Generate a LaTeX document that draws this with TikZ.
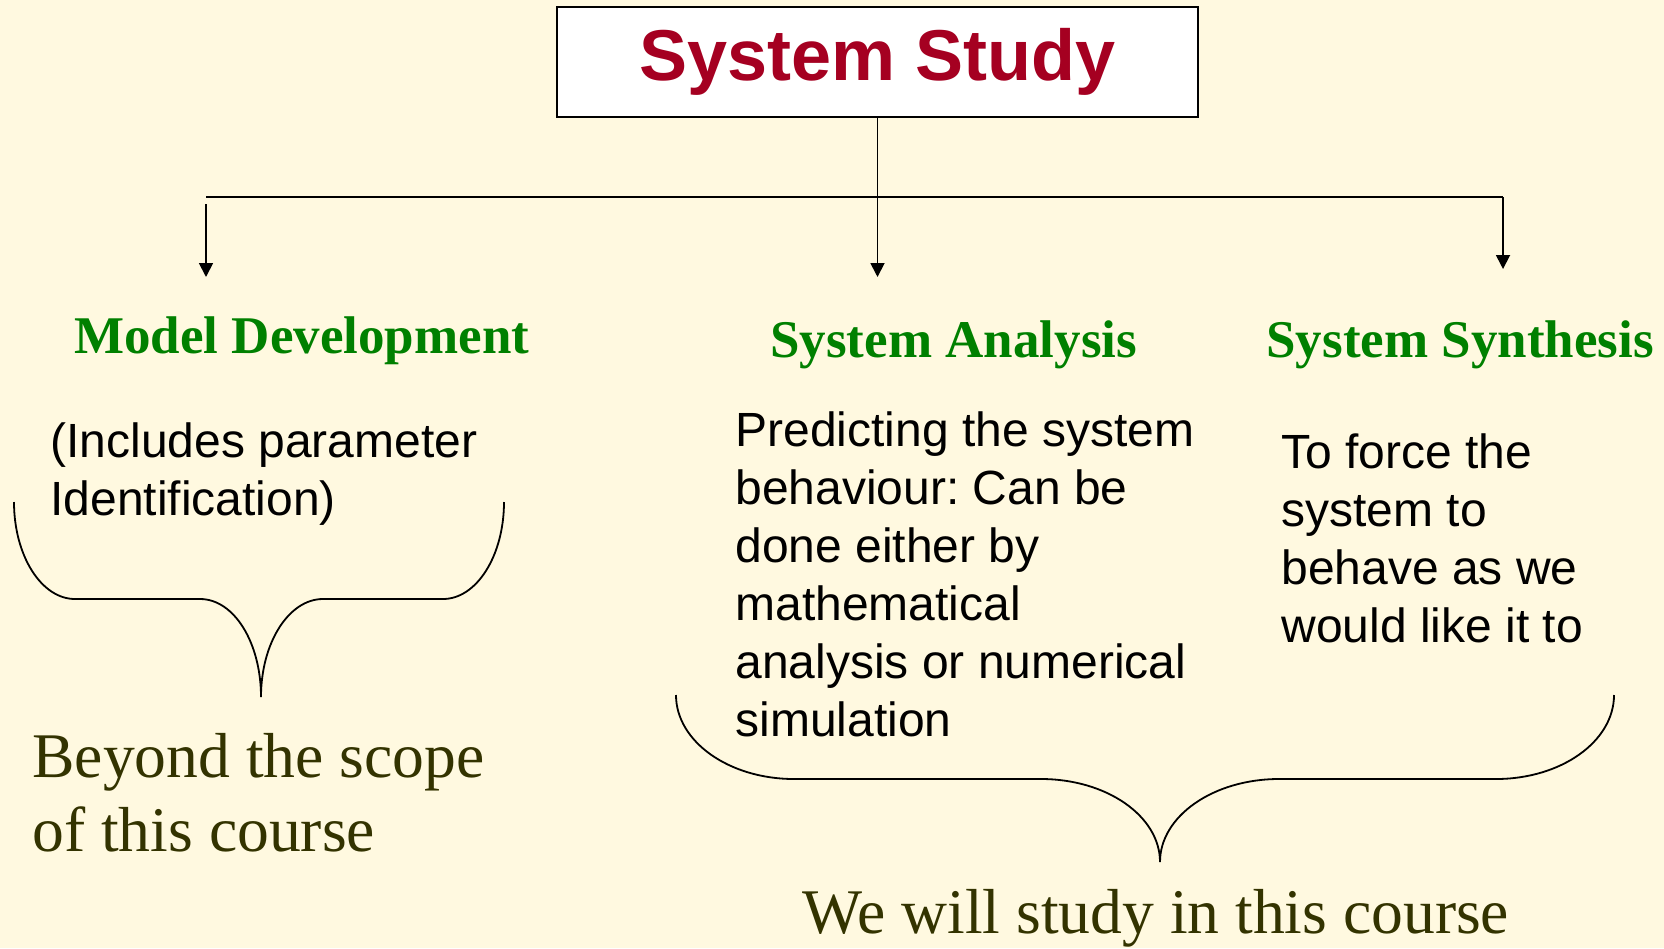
\documentclass[tikz,border=0pt]{standalone}
\usepackage{fontspec}
\setmainfont{Liberation Serif}
\setsansfont{Liberation Sans}
\usetikzlibrary{arrows.meta}
\frenchspacing

\definecolor{paper}{HTML}{FFF9E0}
\definecolor{titlered}{HTML}{A50021}
\definecolor{headgreen}{HTML}{008000}
\definecolor{noteolive}{HTML}{333300}

\tikzset{
  titlebox/.style={draw=black, line width=1.2pt, fill=white,
    minimum width=320.5pt, minimum height=55pt, inner sep=0pt,
    text=titlered, font=\sffamily\bfseries\fontsize{36}{40}\selectfont},
  heading/.style={anchor=base west, inner sep=0pt, text=headgreen,
    font=\rmfamily\bfseries\fontsize{26.5}{30}\selectfont},
  % multi-line blocks are placed by the baseline of their last line
  bodytext/.style={anchor=base west, inner sep=0pt, align=left, text=black,
    font=\sffamily\fontsize{24}{29}\selectfont},
  remark/.style={anchor=base west, inner sep=0pt, align=left, text=noteolive,
    font=\rmfamily\fontsize{31.8}{37}\selectfont},
  link/.style={line width=0.9pt, draw=black},
  arrowlink/.style={link, -{Triangle[length=7pt,width=7pt]}},
  bracecurve/.style={line width=0.9pt, draw=black}
}

\begin{document}
\begin{tikzpicture}[x=0.5pt, y=-0.5pt]
  % page and background
  \useasboundingbox (0,0) rectangle (1664,948);
  \fill[paper] (0,0) rectangle (1664,948);

  % top box
  \node[titlebox] (study) at (877.5,62) {System Study};

  % distribution bus and arrows
  \coordinate (busL) at (206,197);
  \coordinate (busR) at (1503,197);
  \coordinate (dropL) at (206,204);
  \coordinate (tipL) at (206,277);
  \coordinate (tipM) at (877.5,277);
  \coordinate (tipR) at (1503,269);

  \draw[link] (busL) -- (busR);
  \draw[arrowlink] (study.south) -- (tipM);
  \draw[arrowlink] (dropL) -- (tipL);
  \draw[arrowlink] (busR) -- (tipR);

  % headings
  \node[heading] (model) at (74,353) {Model Development};
  \node[heading] (analysis) at (770,357) {System Analysis};
  \node[heading] (synthesis) at (1266,357) {System Synthesis};

  % descriptions
  \node[bodytext] (modeltxt) at (50,515) {(Includes parameter\\Identification)};
  \node[bodytext] (analysistxt) at (735,736) {Predicting the system\\behaviour: Can be\\done either by\\mathematical\\analysis or numerical\\simulation};
  \node[bodytext] (synthesistxt) at (1281,642) {To force the\\system to\\behave as we\\would like it to};

  % left brace
  \draw[bracecurve] (14,502) .. controls (14,555.5) and (41.3,599) .. (75,599)
    -- (200,599) .. controls (234.2,599) and (261,642.9) .. (261,697)
    .. controls (261,642.9) and (288.8,599) .. (323,599)
    -- (443,599) .. controls (476.7,599) and (504,555.5) .. (504,502);

  % right brace
  \draw[bracecurve] (676,695) .. controls (676,741.4) and (728.9,779) .. (794,779)
    -- (1041,779) .. controls (1106.7,779) and (1160,816.2) .. (1160,862)
    .. controls (1160,816.2) and (1213.3,779) .. (1279,779)
    -- (1496,779) .. controls (1561.1,779) and (1614,741.4) .. (1614,695);

  % conclusions
  \node[remark] (beyond) at (32,851) {Beyond the scope\\of this course};
  \node[remark] (within) at (802,933) {We will study in this course};
\end{tikzpicture}
\end{document}
